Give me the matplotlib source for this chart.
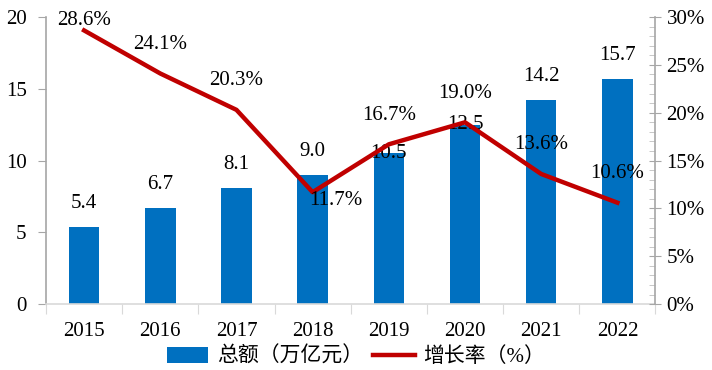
import matplotlib
matplotlib.use("Agg")
import matplotlib.pyplot as plt
from matplotlib.ticker import MultipleLocator, FuncFormatter
from matplotlib.patches import Patch
from matplotlib.lines import Line2D

plt.rcParams['font.family'] = ['Liberation Serif', 'Noto Sans CJK SC']

# 数据
years = ['2015', '2016', '2017', '2018', '2019', '2020', '2021', '2022']
total = [5.4, 6.7, 8.1, 9.0, 10.5, 12.5, 14.2, 15.7]
growth = [28.6, 24.1, 20.3, 11.7, 16.7, 19.0, 13.6, 10.6]
bar_name = '总额（万亿元）'
line_name = '增长率（%）'

blue = '#0070C0'
red = '#C00000'
fs = 15

fig = plt.figure(figsize=(7.12, 3.70), dpi=100)
ax = fig.add_axes([0.0646, 0.178, 0.856, 0.776])
x = list(range(len(years)))

ax.bar(x, total, width=0.4, color=blue, zorder=2)
ax.set_xlim(-0.5, len(years) - 0.5)
ax.set_ylim(0, 20)
ax.yaxis.set_major_locator(MultipleLocator(5))

# 类别分界刻度 + 年份标签
ax.set_xticks([i - 0.5 for i in range(len(years) + 1)])
ax.set_xticklabels([])
ax.set_xticks(x, minor=True)
ax.set_xticklabels(years, minor=True)
ax.tick_params(axis='x', which='major', length=7, color='#D9D9D9', direction='out')
ax.tick_params(axis='x', which='minor', length=0, pad=13, labelsize=fs)
ax.tick_params(axis='y', length=6, color='#A6A6A6', direction='out', labelsize=fs, pad=8)

for s in ['top', 'right']:
    ax.spines[s].set_visible(False)
ax.spines['left'].set_color('#A6A6A6')
ax.spines['bottom'].set_color('#D9D9D9')
ax.spines['left'].set_linewidth(1.2)
ax.spines['bottom'].set_linewidth(1.2)

# 柱标签
bar_off = [17, 17, 17, 17, 0, 0, 17, 17]
for xi, v, o in zip(x, total, bar_off):
    ax.annotate(f'{v:.1f}', (xi, v), xytext=(0, o), textcoords='offset points',
                ha='center', va='center', fontsize=fs, zorder=5)

# 右轴：增长率
ax2 = ax.twinx()
ax2.plot(x, growth, color=red, lw=3.2, zorder=3)
ax2.set_ylim(0, 30)
ax2.yaxis.set_major_locator(MultipleLocator(5))
ax2.yaxis.set_minor_locator(MultipleLocator(1))
ax2.yaxis.set_major_formatter(FuncFormatter(lambda v, p: f'{v:.0f}%'))
ax2.tick_params(axis='y', which='major', length=8, direction='inout', color='#A6A6A6',
                labelsize=fs, pad=4)
ax2.tick_params(axis='y', which='minor', length=4, direction='in', color='#BFBFBF')
for s in ['top', 'left', 'bottom']:
    ax2.spines[s].set_visible(False)
ax2.spines['right'].set_color('#A6A6A6')
ax2.spines['right'].set_linewidth(1.2)

line_off = [(0, 7), (0, 21), (0, 21), (17, -6), (0, 21), (0, 21), (0, 21), (0, 21)]
for xi, v, o in zip(x, growth, line_off):
    ax2.annotate(f'{v:.1f}%', (xi, v), xytext=o, textcoords='offset points',
                 ha='center', va='center', fontsize=fs, zorder=6)

handles = [Patch(facecolor=blue), Line2D([], [], color=red, lw=3.2)]
fig.legend(handles, [bar_name, line_name], loc='center', bbox_to_anchor=(0.5, 0.035),
           ncol=2, frameon=False, fontsize=fs, handlelength=2.0, handleheight=0.8,
           columnspacing=0.5, handletextpad=0.4)

fig.savefig('out.png', dpi=100)
